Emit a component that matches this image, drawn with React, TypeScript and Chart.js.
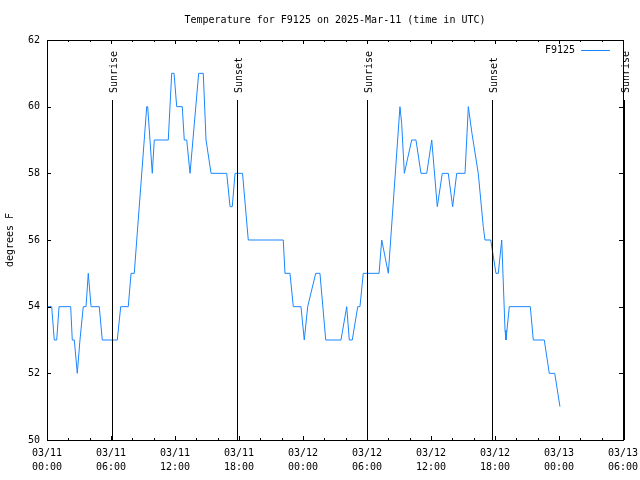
import React, { useEffect, useRef } from "react";
import { Chart, registerables } from "chart.js";

Chart.register(...registerables);

// ---- Data (hours since 2025-03-11 00:00 UTC, temperature in °F) ----
const hours = [
  0.0, 0.44, 0.68, 0.91, 1.13, 2.22, 2.37, 2.56, 2.84, 3.09, 3.4, 3.66, 3.87, 4.13, 4.9, 5.18,
  6.59, 6.91, 7.62, 7.88, 8.18, 9.35, 9.44, 9.87, 10.06, 11.37, 11.69, 11.91, 12.16, 12.68,
  12.87, 13.1, 13.41, 14.22, 14.65, 14.91, 15.38, 16.85, 17.16, 17.37, 17.63, 18.33, 18.87,
  22.15, 22.31, 22.78, 23.09, 23.81, 24.12, 24.44, 25.19, 25.59, 26.13, 27.56, 28.1, 28.34,
  28.62, 29.13, 29.34, 29.65, 31.13, 31.38, 32.0, 33.09, 33.25, 33.5, 34.19, 34.59, 35.06,
  35.6, 36.07, 36.59, 37.06, 37.62, 38.03, 38.41, 39.19, 39.5, 39.84, 40.43, 40.9, 41.06,
  41.6, 42.09, 42.31, 42.63, 42.94, 43.03, 43.34, 45.31, 45.59, 46.62, 47.09, 47.6, 48.09,
];
const tempF = [
  54, 54, 53, 53, 54, 54, 53, 53, 52, 53, 54, 54, 55, 54, 54, 53,
  53, 54, 54, 55, 55, 60, 60, 58, 59, 59, 61, 61, 60, 60,
  59, 59, 58, 61, 61, 59, 58, 58, 57, 57, 58, 58, 56,
  56, 55, 55, 54, 54, 53, 54, 55, 55, 53, 53, 54, 53,
  53, 54, 54, 55, 55, 56, 55, 60, 59.5, 58, 59, 59, 58,
  58, 59, 57, 58, 58, 57, 58, 58, 60, 59.2, 58, 56.4, 56,
  56, 55, 55, 56, 53.3, 53, 54, 54, 53, 53, 52, 52, 51,
];

const sunEventHours = [6.12, 17.78, 30.02, 41.74, 54.05];
const sunEventLabels = ["Sunrise", "Sunset", "Sunrise", "Sunset", "Sunrise"];

const xTickDates = ["03/11", "03/11", "03/11", "03/11", "03/12", "03/12", "03/12", "03/12", "03/13", "03/13"];
const xTickTimes = ["00:00", "06:00", "12:00", "18:00", "00:00", "06:00", "12:00", "18:00", "00:00", "06:00"];
const yTickValues = [50, 52, 54, 56, 58, 60, 62];

const seriesName = "F9125";
const titleText = "Temperature for F9125 on 2025-Mar-11 (time in UTC)";
const yAxisLabel = "degrees F";

const FONT = "'DejaVu Sans Mono', 'Liberation Mono', monospace";
const LINE_COLOR = "#1a86ff";

const decorPlugin = {
  id: "gnuplotDecor",
  afterDraw(chart: any) {
    const { ctx, chartArea } = chart;
    const { left, right, top, bottom } = chartArea;
    const xs = chart.scales.x;
    const ys = chart.scales.y;
    ctx.save();
    ctx.strokeStyle = "#000";
    ctx.lineWidth = 1;

    // ticks
    ctx.beginPath();
    for (let h = 0; h <= 54; h += 2) {
      const px = Math.round(xs.getPixelForValue(h)) + 0.5;
      const len = h % 6 === 0 ? 4 : 2;
      ctx.moveTo(px, bottom);
      ctx.lineTo(px, bottom - len);
      ctx.moveTo(px, top);
      ctx.lineTo(px, top + len);
    }
    for (const v of yTickValues) {
      const py = Math.round(ys.getPixelForValue(v)) + 0.5;
      ctx.moveTo(left, py);
      ctx.lineTo(left + 4, py);
      ctx.moveTo(right, py);
      ctx.lineTo(right - 4, py);
    }
    ctx.stroke();

    // frame
    ctx.strokeRect(Math.round(left) + 0.5, Math.round(top) + 0.5, Math.round(right - left), Math.round(bottom - top));

    // sun event lines and labels
    ctx.font = `10px ${FONT}`;
    ctx.fillStyle = "#000";
    sunEventHours.forEach((h, i) => {
      const px = Math.round(xs.getPixelForValue(h)) + 0.5;
      ctx.beginPath();
      ctx.moveTo(px, 100);
      ctx.lineTo(px, bottom);
      ctx.stroke();
      ctx.save();
      ctx.translate(px + 4, 93);
      ctx.rotate(-Math.PI / 2);
      ctx.textAlign = "left";
      ctx.textBaseline = "alphabetic";
      ctx.fillText(sunEventLabels[i], 0, 0);
      ctx.restore();
    });

    // title (centred over the plot area)
    ctx.textAlign = "center";
    ctx.textBaseline = "middle";
    ctx.fillText(titleText, (left + right) / 2, 20);

    // y axis label
    ctx.save();
    ctx.translate(10, 240);
    ctx.rotate(-Math.PI / 2);
    ctx.textAlign = "center";
    ctx.textBaseline = "middle";
    ctx.fillText(yAxisLabel, 0, 0);
    ctx.restore();

    // legend
    ctx.textAlign = "right";
    ctx.textBaseline = "middle";
    ctx.fillText(seriesName, 575, 50);
    ctx.strokeStyle = LINE_COLOR;
    ctx.beginPath();
    ctx.moveTo(581, 50.5);
    ctx.lineTo(610, 50.5);
    ctx.stroke();

    ctx.restore();
  },
};

export default function App() {
  const canvasRef = useRef<HTMLCanvasElement | null>(null);

  useEffect(() => {
    document.body.style.margin = "0";
    const canvas = canvasRef.current;
    if (!canvas) return;
    const points = hours.map((h, i) => ({ x: h, y: tempF[i] }));
    const chart = new Chart(canvas, {
      type: "line",
      data: {
        datasets: [
          {
            label: seriesName,
            data: points,
            borderColor: LINE_COLOR,
            borderWidth: 1,
            pointRadius: 0,
            tension: 0,
            fill: false,
          },
        ],
      },
      options: {
        animation: false,
        responsive: false,
        devicePixelRatio: 1,
        layout: { padding: { top: 40, right: 17, left: 0, bottom: 0 } },
        plugins: {
          legend: { display: false },
          title: { display: false },
          tooltip: { enabled: false },
        },
        scales: {
          x: {
            type: "linear",
            min: 0,
            max: 54,
            grid: { display: false, drawTicks: false },
            border: { display: false },
            afterFit: (scale: any) => {
              scale.height = 40;
              scale.paddingLeft = 0;
              scale.paddingRight = 0;
            },
            ticks: {
              stepSize: 6,
              autoSkip: false,
              maxRotation: 0,
              padding: 6,
              color: "#000",
              font: { family: FONT, size: 10, lineHeight: 1.4 },
              callback: (value: any) => {
                const i = Math.round(Number(value) / 6);
                return [xTickDates[i], xTickTimes[i]];
              },
            },
          },
          y: {
            type: "linear",
            min: 50,
            max: 62,
            grid: { display: false, drawTicks: false },
            border: { display: false },
            afterFit: (scale: any) => {
              scale.width = 47;
              scale.paddingTop = 0;
              scale.paddingBottom = 0;
            },
            ticks: {
              stepSize: 2,
              padding: 7,
              color: "#000",
              font: { family: FONT, size: 10 },
              callback: (value: any) => String(value),
            },
          },
        },
      },
      plugins: [decorPlugin],
    });
    return () => chart.destroy();
  }, []);

  return (
    <canvas
      ref={canvasRef}
      width={640}
      height={480}
      style={{ display: "block", width: 640, height: 480 }}
    />
  );
}
